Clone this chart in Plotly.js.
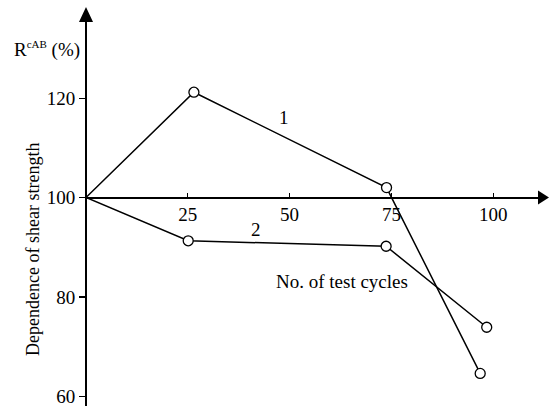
<!DOCTYPE html>
<html>
<head>
<meta charset="utf-8">
<script src="https://cdn.plot.ly/plotly-3.0.1.min.js"></script>
<style>
  html, body { margin: 0; padding: 0; background: #fff; }
  #chart { width: 549px; height: 406px; }
</style>
</head>
<body>
<div id="chart"></div>
<script>
// Shear strength ratio vs number of test cycles
const cycles1 = [0, 26.5, 73.8, 96.8];
const strength1 = [100, 121.2, 102.0, 64.6];
const cycles2 = [0, 25.1, 73.7, 98.4];
const strength2 = [100, 91.3, 90.2, 73.9];

const xTicks = [25, 50, 75, 100];
const yTicks = [60, 80, 100, 120];

const font = { family: '"Liberation Serif", "Times New Roman", serif', size: 19, color: '#000' };

// no marker drawn at the origin
const marker = { symbol: 'circle', size: [0, 10, 10, 10], color: '#ffffff', opacity: 1,
  line: { color: '#000000', width: 1.3 } };

let trace1 = {
  x: cycles1, y: strength1,
  mode: 'lines+markers',
  line: { color: '#000', width: 1.5 },
  marker: marker,
  cliponaxis: false
};
let trace2 = {
  x: cycles2, y: strength2,
  mode: 'lines+markers',
  line: { color: '#000', width: 1.5 },
  marker: marker,
  cliponaxis: false
};

const x0 = 86 / 549;
const yAx = 208.5 / 406;

let layout = {
  width: 549, height: 406,
  margin: { l: 0, r: 0, t: 0, b: 0 },
  paper_bgcolor: '#fff',
  plot_bgcolor: 'rgba(0,0,0,0)',
  showlegend: false,
  font: font,
  xaxis: {
    domain: [x0, 0.98],
    range: [0, 111.0],
    anchor: 'free',
    position: yAx,
    showline: true, linecolor: '#000', linewidth: 2,
    showgrid: false, zeroline: false,
    tickmode: 'array', tickvals: xTicks,
    ticks: 'inside', ticklen: 4, tickwidth: 1, tickcolor: '#000',
    ticklabeloverflow: 'allow',
    tickfont: font
  },
  yaxis: {
    domain: [0, 0.965],
    range: [58.05, 136.9],
    anchor: 'free',
    position: x0,
    showline: true, linecolor: '#000', linewidth: 2,
    showgrid: false, zeroline: false,
    tickmode: 'array', tickvals: yTicks,
    ticks: 'outside', ticklen: 6, tickwidth: 1.2, tickcolor: '#000',
    ticklabeloverflow: 'allow',
    tickfont: font
  },
  shapes: [
    // arrowheads at the axis ends
    { type: 'path', xref: 'paper', yref: 'paper', fillcolor: '#000', line: { width: 0 },
      path: `M ${538 / 549} ${yAx + 7 / 406} L ${549 / 549} ${yAx} L ${538 / 549} ${yAx - 7 / 406} Z` },
    { type: 'path', xref: 'paper', yref: 'paper', fillcolor: '#000', line: { width: 0 },
      path: `M ${79 / 549} ${1 - 22 / 406} L ${x0} ${1 - 7 / 406} L ${93 / 549} ${1 - 22 / 406} Z` }
  ],
  annotations: [
    { xref: 'x', yref: 'y', x: 48.6, y: 116.2, text: '1', showarrow: false, font: font },
    { xref: 'x', yref: 'y', x: 41.7, y: 93.6, text: '2', showarrow: false, font: font },
    { xref: 'x', yref: 'y', x: 62.9, y: 83.1, text: 'No. of test cycles', showarrow: false, font: font },
    { xref: 'paper', yref: 'paper', x: 21 / 549, y: 1 - 250 / 406, textangle: -90,
      text: 'Dependence of shear strength', showarrow: false, font: { ...font, size: 18 } },
    { xref: 'paper', yref: 'paper', x: 12 / 549, y: 1 - 36 / 406, xanchor: 'left',
      text: 'R<sup><span style="font-size:11px">cAB</span></sup> (%)', showarrow: false, font: font }
  ]
};

Plotly.newPlot('chart', [trace1, trace2], layout, { staticPlot: true });
</script>
</body>
</html>
